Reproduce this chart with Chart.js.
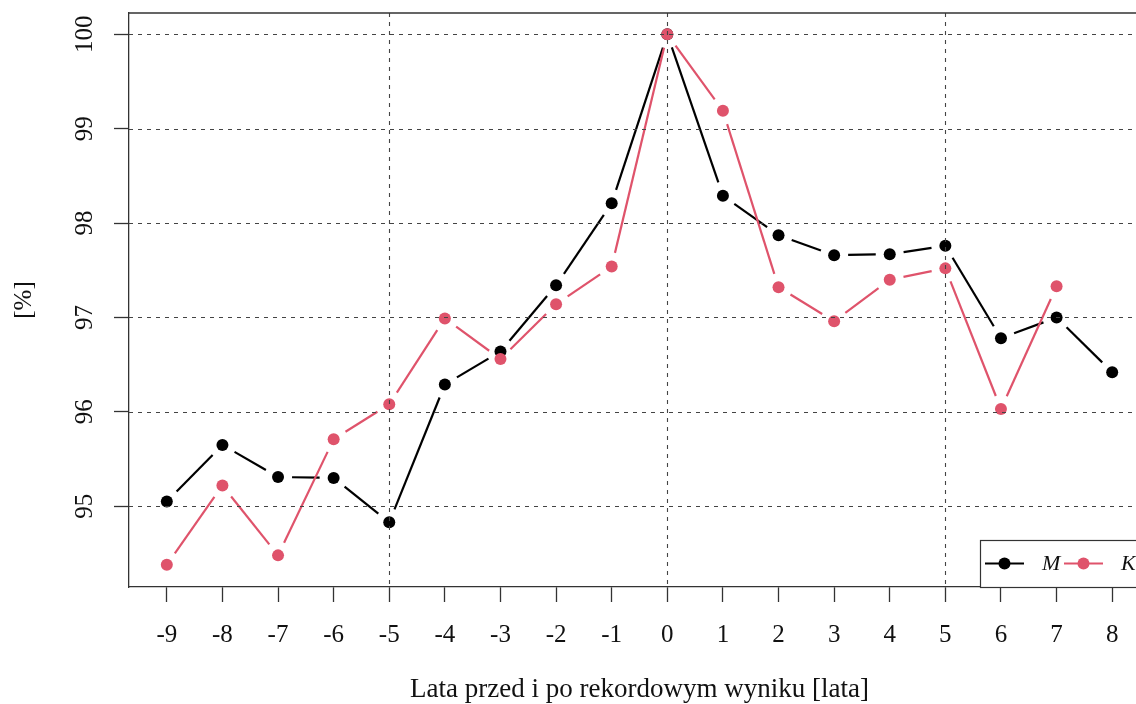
<!DOCTYPE html>
<html>
<head>
<meta charset="utf-8">
<script src="https://cdn.jsdelivr.net/npm/chart.js@4/dist/chart.umd.min.js"></script>
<style>
  html, body { margin: 0; padding: 0; overflow: hidden; background: #fff; }
  #wrap { width: 1160px; height: 704px; }
</style>
</head>
<body>
<div id="wrap"><canvas id="rekordChart" width="1160" height="704"></canvas></div>
<script>
const years = [-9, -8, -7, -6, -5, -4, -3, -2, -1, 0, 1, 2, 3, 4, 5, 6, 7, 8];
const maleVals = [95.05, 95.65, 95.31, 95.30, 94.83, 96.29, 96.64, 97.34, 98.21, 100, 98.29, 97.87, 97.66, 97.67, 97.76, 96.78, 97.00, 96.42];
const femaleVals = [94.38, 95.22, 94.48, 95.71, 96.08, 96.99, 96.56, 97.14, 97.54, 100, 99.19, 97.32, 96.96, 97.40, 97.52, 96.03, 97.33, null];
const yTicks = [95, 96, 97, 98, 99, 100];
const vGrid = [-5, 0, 5];
const seriesNames = ['M', 'K'];

const black = '#000000';
const pink = '#DF536B';
const serif = '"Liberation Serif", "DejaVu Serif", serif';

function toPoints(vals) {
	return years.map((x, i) => ({ x: x, y: vals[i] }));
}

// lines with gaps around the points (R type="b")
const gappedLines = {
	id: 'gappedLines',
	beforeDatasetsDraw(chart) {
		const ctx = chart.ctx;
		const gap = 14;
		[0, 1].forEach(di => {
			const meta = chart.getDatasetMeta(di);
			const pts = meta.data;
			ctx.save();
			ctx.strokeStyle = chart.data.datasets[di].borderColor;
			ctx.lineWidth = 2.2;
			for (let i = 0; i < pts.length - 1; i++) {
				const a = pts[i], b = pts[i + 1];
				if (a.skip || b.skip) continue;
				const dx = b.x - a.x, dy = b.y - a.y;
				const len = Math.sqrt(dx * dx + dy * dy);
				if (len <= 2 * gap) continue;
				const ux = dx / len, uy = dy / len;
				ctx.beginPath();
				ctx.moveTo(a.x + ux * gap, a.y + uy * gap);
				ctx.lineTo(b.x - ux * gap, b.y - uy * gap);
				ctx.stroke();
			}
			ctx.restore();
		});
	}
};

const frame = {
	id: 'frame',
	afterDatasetsDraw(chart) {
		const ctx = chart.ctx;
		const area = chart.chartArea;
		const xs = chart.scales.x, ys = chart.scales.y;
		ctx.save();
		// dotted grid
		ctx.strokeStyle = '#444';
		ctx.lineWidth = 1.1;
		ctx.setLineDash([4, 5]);
		yTicks.forEach(v => {
			const py = Math.round(ys.getPixelForValue(v)) + 0.5;
			ctx.beginPath();
			ctx.moveTo(area.left, py);
			ctx.lineTo(area.right, py);
			ctx.stroke();
		});
		vGrid.forEach(v => {
			const px = Math.round(xs.getPixelForValue(v)) + 0.5;
			ctx.beginPath();
			ctx.moveTo(px, area.top);
			ctx.lineTo(px, area.bottom);
			ctx.stroke();
		});
		ctx.setLineDash([]);
		// box top and right
		ctx.strokeStyle = '#333';
		ctx.lineWidth = 1.3;
		ctx.beginPath();
		ctx.moveTo(area.left, area.top);
		ctx.lineTo(area.right, area.top);
		ctx.lineTo(area.right, area.bottom);
		ctx.stroke();

		// y tick labels, rotated like R
		ctx.fillStyle = '#111';
		ctx.font = '25px ' + serif;
		ctx.textAlign = 'center';
		ctx.textBaseline = 'middle';
		yTicks.forEach(v => {
			ctx.save();
			ctx.translate(85, ys.getPixelForValue(v));
			ctx.rotate(-Math.PI / 2);
			ctx.fillText(String(v), 0, 0);
			ctx.restore();
		});

		// axis titles
		ctx.font = '27px ' + serif;
		ctx.fillText('Lata przed i po rekordowym wyniku [lata]', (area.left + area.right) / 2, 690);
		ctx.save();
		ctx.translate(24, (area.top + area.bottom) / 2);
		ctx.rotate(-Math.PI / 2);
		ctx.font = '25px ' + serif;
		ctx.fillText('[%]', 0, 0);
		ctx.restore();

		// legend, bottom right, horizontal
		const lw = 170, lh = 47;
		const lx = area.right - lw, ly = area.bottom - lh;
		ctx.fillStyle = '#fff';
		ctx.fillRect(lx, ly, lw, lh);
		ctx.strokeStyle = '#333';
		ctx.lineWidth = 1.2;
		ctx.strokeRect(lx + 0.5, ly + 0.5, lw, lh);
		const cy = ly + 23.5;
		const items = [
			{ name: seriesNames[0], color: black, x0: lx + 5 },
			{ name: seriesNames[1], color: pink, x0: lx + 84 }
		];
		items.forEach(it => {
			ctx.strokeStyle = it.color;
			ctx.lineWidth = 2.2;
			ctx.beginPath();
			ctx.moveTo(it.x0, cy);
			ctx.lineTo(it.x0 + 39, cy);
			ctx.stroke();
			ctx.fillStyle = it.color;
			ctx.beginPath();
			ctx.arc(it.x0 + 19.5, cy, 6, 0, Math.PI * 2);
			ctx.fill();
			ctx.fillStyle = '#111';
			ctx.font = 'italic 22px ' + serif;
			ctx.textAlign = 'left';
			ctx.fillText(it.name, it.x0 + 57, cy + 1);
		});
		ctx.restore();
	}
};

const config = {
	type: 'scatter',
	data: {
		datasets: [
			{
				label: seriesNames[0],
				data: toPoints(maleVals),
				borderColor: black,
				backgroundColor: black,
				pointRadius: 6,
				pointBorderWidth: 0,
				showLine: false,
				order: 2
			},
			{
				label: seriesNames[1],
				data: toPoints(femaleVals),
				borderColor: pink,
				backgroundColor: pink,
				pointRadius: 6,
				pointBorderWidth: 0,
				showLine: false,
				order: 1
			}
		]
	},
	options: {
		responsive: false,
		animation: false,
		layout: { padding: { top: 13, right: 10, left: 0, bottom: 0 } },
		plugins: { legend: { display: false }, tooltip: { enabled: false } },
		scales: {
			x: {
				type: 'linear',
				min: -9.68,
				max: 8.68,
				afterBuildTicks: (scale) => { scale.ticks = years.map(v => ({ value: v })); },
				afterFit: (scale) => { scale.height = 117; },
				grid: { drawOnChartArea: false, drawTicks: true, tickLength: 15, tickColor: '#333', tickWidth: 1.3 },
				border: { color: '#333', width: 1.3 },
				ticks: {
					color: '#111',
					font: { family: serif, size: 25 },
					padding: 18,
					maxRotation: 0,
					autoSkip: false
				}
			},
			y: {
				type: 'linear',
				min: 94.145,
				max: 100.225,
				afterBuildTicks: (scale) => { scale.ticks = yTicks.map(v => ({ value: v })); },
				afterFit: (scale) => { scale.width = 129; },
				grid: { drawOnChartArea: false, drawTicks: true, tickLength: 15, tickColor: '#333', tickWidth: 1.3 },
				border: { color: '#333', width: 1.3 },
				ticks: { display: false }
			}
		}
	},
	plugins: [gappedLines, frame]
};

const rekordChart = new Chart(document.getElementById('rekordChart'), config);
</script>
</body>
</html>
